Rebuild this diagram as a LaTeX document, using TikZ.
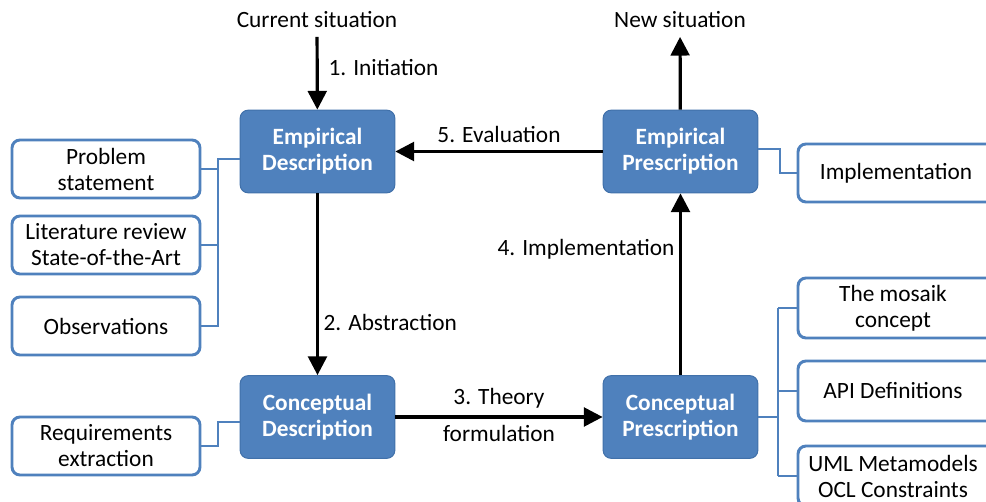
\documentclass[tikz,border=0pt]{standalone}
\usepackage{fontspec}
\setmainfont{Carlito}
\usetikzlibrary{arrows.meta}
\definecolor{officeblue}{RGB}{79,129,189}
\definecolor{officeedge}{RGB}{65,113,170}
\newcommand{\diagfont}{\fontsize{17.5}{19.5}\selectfont}
\tikzset{
  phase/.style={draw=officeedge, line width=0.8pt, fill=officeblue, rounded corners=6pt,
    minimum width=116pt, minimum height=62pt, align=center, text=white, font=\diagfont\bfseries},
  item/.style={draw=officeblue, line width=2.2pt, fill=white, rounded corners=6pt,
    minimum width=141pt, minimum height=43.5pt, align=center},
  flow/.style={-{Triangle[length=14pt,width=14pt]}, line width=2.4pt},
  link/.style={draw=officeblue, line width=2.2pt}
}
\begin{document}
\begin{tikzpicture}[x=0.75pt, y=-0.75pt, font=\diagfont]
      \clip (0,0) rectangle (986,502);
      \fill[white] (0,0) rectangle (986,502);
      \node[phase] (ed) at (317.5,151.5) {Empirical\\Description};
      \node[phase] (ep) at (680.5,151.5) {Empirical\\Prescription};
      \node[phase] (cd) at (317.5,417) {Conceptual\\Description};
      \node[phase] (cp) at (680.5,417) {Conceptual\\Prescription};
      \node (cur) at (317,20) {Current situation};
      \node (new) at (680,20) {New situation};
      % left side
      \node[item] (ps) at (106,169) {Problem\\statement};
      \node[item] (lit) at (106,245) {Literature review\\State-of-the-Art};
      \node[item] (obs) at (106,326) {Observations};
      \node[item] (req) at (106,446) {Requirements\\extraction};
      % right side
      \node[item, minimum width=150pt] (impl) at (898,173) {};
      \node (impltext) at (896,173) {Implementation};
      \node[item, minimum width=150pt, minimum height=45pt] (mos) at (898,308) {};
      \node[align=center] (mostext) at (893,308) {The mosaik\\concept};
      \node[item, minimum width=150pt, minimum height=45pt] (api) at (898,391) {};
      \node (apitext) at (893,391) {API Definitions};
      \node[item, minimum width=150pt, minimum height=45pt] (uml) at (898,476) {};
      \node[align=center] (umltext) at (893,476) {UML Metamodels\\OCL Constraints};
      \coordinate (lb) at (218,159);
      \coordinate (lc) at (218,422);
      \coordinate (rt) at (780,149);
      \coordinate (rb) at (778,417);
      \begin{scope}[link]
        \draw (ed.west |- lb) -- (lb) -- (lb |- obs.east) -- (obs.east);
        \draw (ps.east) -- (lb |- ps.east);
        \draw (lit.east) -- (lb |- lit.east);
        \draw (cd.west |- lc) -- (lc) -- (lc |- req.east) -- (req.east);
        \draw (ep.east |- rt) -- (rt) -- (rt |- impl.west) -- (impl.west);
        \draw (cp.east) -- (rb);
        \draw (rb |- mos.west) -- (rb |- uml.west);
        \draw (rb |- mos.west) -- (mos.west);
        \draw (rb |- api.west) -- (api.west);
        \draw (rb |- uml.west) -- (uml.west);
      \end{scope}
      \draw[flow, shorten <=3pt] (cur) -- node[right, xshift=4pt, yshift=2.5pt] {1. Initiation} (ed);
      \draw[flow, shorten >=3pt] (ep) -- (new);
      \draw[flow] (ep) -- node[above, yshift=2pt] {5. Evaluation} (ed);
      \draw[flow] (ed) -- node[right, pos=0.71] {2. Abstraction} (cd);
      \draw[flow] (cd) -- node[above, yshift=2pt] {3. Theory} node[below, yshift=-2pt] {formulation} (cp);
      \draw[flow] (cp) -- node[left, pos=0.69] {4. Implementation} (ep);
    \end{tikzpicture}
\end{document}
